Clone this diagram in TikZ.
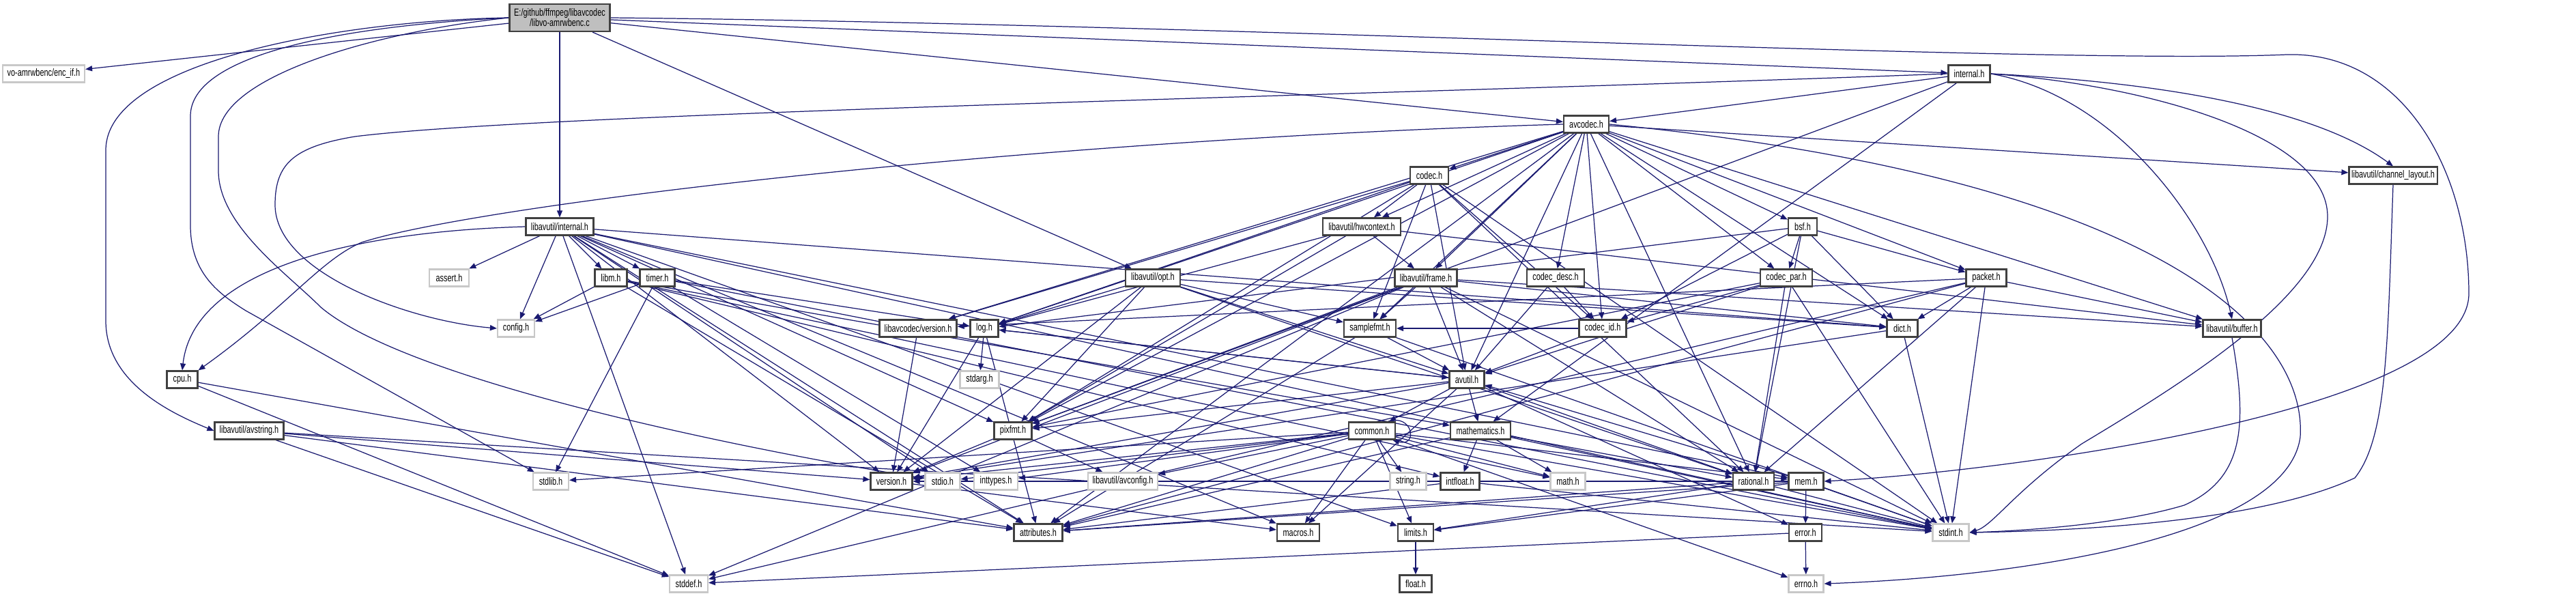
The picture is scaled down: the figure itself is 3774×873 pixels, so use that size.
\documentclass[tikz,border=0pt]{standalone}
\usepackage{fontspec}
\setmainfont{Liberation Sans}[FakeStretch=0.72]
\usetikzlibrary{arrows.meta,backgrounds}

\definecolor{edgeblue}{HTML}{191970}
\definecolor{boxgray}{HTML}{404040}
\definecolor{sysgray}{HTML}{C8C8C8}
\definecolor{mainfill}{HTML}{BFBFBF}

\tikzset{
  hfile/.style={draw=boxgray, fill=white, line width=0.6pt, inner sep=0pt,
    minimum height=0.25cm, font=\fontsize{4.3}{4.3}\selectfont},
  sysfile/.style={hfile, draw=sysgray},
  dep/.style={edgeblue, line width=0.35pt, -{Triangle[length=0.1cm,width=0.08cm]}},
}

\begin{document}
\begin{tikzpicture}[x=0.01cm, y=-0.01cm]
\useasboundingbox (0,0) rectangle (3774,873);

% top rows
\node[hfile, fill=mainfill, minimum width=1.47cm, minimum height=0.40cm, align=center] (main) at (820,26) {E:/github/ffmpeg/libavcodec\\/libvo-amrwbenc.c};
\node[sysfile, minimum width=1.20cm] (encif) at (64,108) {vo-amrwbenc/enc\_if.h};
\node[hfile, minimum width=0.61cm] (internal) at (2885,108) {internal.h};
\node[hfile, minimum width=0.66cm] (avcodec) at (2324,182) {avcodec.h};
\node[hfile, minimum width=0.56cm] (codec) at (2094,257) {codec.h};
\node[hfile, minimum width=1.29cm] (chlayout) at (3506,257) {libavutil/channel\_layout.h};
\node[hfile, minimum width=0.99cm] (luinternal) at (820,332) {libavutil/internal.h};
\node[hfile, minimum width=1.14cm] (hwcontext) at (1995,332) {libavutil/hwcontext.h};
\node[hfile, minimum width=0.42cm] (bsf) at (2641,332) {bsf.h};
\node[sysfile, minimum width=0.58cm] (assert) at (658,407) {assert.h};
\node[hfile, minimum width=0.47cm] (libm) at (895,407) {libm.h};
\node[hfile, minimum width=0.51cm] (timer) at (963,407) {timer.h};
\node[hfile, minimum width=0.80cm] (opt) at (1689,407) {libavutil/opt.h};
\node[hfile, minimum width=0.91cm] (frame) at (2089,407) {libavutil/frame.h};
\node[hfile, minimum width=0.84cm] (codecdesc) at (2279,407) {codec\_desc.h};
\node[hfile, minimum width=0.76cm] (codecpar) at (2617,407) {codec\_par.h};
\node[hfile, minimum width=0.59cm] (packet) at (2910,407) {packet.h};

% middle rows
\node[sysfile, minimum width=0.54cm] (config) at (756,481) {config.h};
\node[hfile, minimum width=1.13cm] (lcversion) at (1345,481) {libavcodec/version.h};
\node[hfile, minimum width=0.41cm] (log) at (1442,481) {log.h};
\node[hfile, minimum width=0.76cm] (samplefmt) at (2007,481) {samplefmt.h};
\node[hfile, minimum width=0.69cm] (codecid) at (2348,481) {codec\_id.h};
\node[hfile, minimum width=0.45cm] (dict) at (2787,481) {dict.h};
\node[hfile, minimum width=0.85cm] (buffer) at (3270,481) {libavutil/buffer.h};
\node[hfile, minimum width=0.45cm] (cpu) at (267,556) {cpu.h};
\node[sysfile, minimum width=0.57cm] (stdarg) at (1435,556) {stdarg.h};
\node[hfile, minimum width=0.51cm] (avutil) at (2149,556) {avutil.h};
\node[hfile, minimum width=1.01cm] (avstring) at (365,631) {libavutil/avstring.h};
\node[hfile, minimum width=0.55cm] (pixfmt) at (1484,631) {pixfmt.h};
\node[hfile, minimum width=0.68cm] (common) at (2010,631) {common.h};
\node[hfile, minimum width=0.88cm] (mathematics) at (2169,631) {mathematics.h};

% bottom rows
\node[sysfile, minimum width=0.52cm] (stdlib) at (807,705) {stdlib.h};
\node[hfile, minimum width=0.61cm] (version) at (1306,705) {version.h};
\node[sysfile, minimum width=0.51cm] (stdio) at (1381,705) {stdio.h};
\node[sysfile, minimum width=0.64cm] (inttypes) at (1459,705) {inttypes.h};
\node[sysfile, minimum width=1.02cm] (avconfig) at (1645,705) {libavutil/avconfig.h};
\node[sysfile, minimum width=0.53cm] (string) at (2063,705) {string.h};
\node[hfile, minimum width=0.57cm] (intfloat) at (2139,705) {intfloat.h};
\node[sysfile, minimum width=0.51cm] (math) at (2297,705) {math.h};
\node[hfile, minimum width=0.60cm] (rational) at (2569,705) {rational.h};
\node[hfile, minimum width=0.51cm] (mem) at (2646,705) {mem.h};
\node[hfile, minimum width=0.71cm] (attributes) at (1521,780) {attributes.h};
\node[hfile, minimum width=0.62cm] (macros) at (1902,780) {macros.h};
\node[hfile, minimum width=0.52cm] (limits) at (2074,780) {limits.h};
\node[hfile, minimum width=0.48cm] (error) at (2645,780) {error.h};
\node[sysfile, minimum width=0.53cm] (stdint) at (2858,780) {stdint.h};
\node[sysfile, minimum width=0.56cm] (stddef) at (1009,855) {stddef.h};
\node[hfile, minimum width=0.47cm] (float) at (2074,855) {float.h};
\node[sysfile, minimum width=0.51cm] (errno) at (2646,855) {errno.h};

\begin{pgfonlayer}{background}
\fill[white] (0,0) rectangle (3774,873);
% straight includes
\foreach \a/\b in {main/encif, main/luinternal, main/opt, main/avcodec, main/internal,
    luinternal/limits, luinternal/stdint, luinternal/stddef, luinternal/assert, luinternal/stdio,
    luinternal/config, luinternal/attributes, luinternal/timer, luinternal/dict, luinternal/macros,
    luinternal/mem, luinternal/pixfmt, luinternal/version, luinternal/libm,
    avstring/stddef, avstring/stdint, avstring/attributes, avstring/version,
    opt/rational, opt/avutil, opt/dict, opt/log, opt/pixfmt, opt/samplefmt, opt/version,
    avcodec/samplefmt, avcodec/attributes, avcodec/avutil, avcodec/buffer, avcodec/chlayout,
    avcodec/dict, avcodec/frame, avcodec/hwcontext, avcodec/log, avcodec/pixfmt, avcodec/rational,
    avcodec/bsf, avcodec/codec, avcodec/codecdesc, avcodec/codecpar, avcodec/codecid,
    avcodec/packet, avcodec/lcversion,
    internal/pixfmt, internal/avcodec, internal/mathematics,
    codec/stdint, codec/avutil, codec/hwcontext, codec/log, codec/pixfmt, codec/rational,
    codec/samplefmt, codec/codecid, codec/lcversion,
    hwcontext/buffer, hwcontext/frame, hwcontext/log, hwcontext/pixfmt,
    frame/stddef, frame/stdint, frame/avutil, frame/buffer, frame/dict, frame/rational,
    frame/samplefmt, frame/pixfmt, frame/version,
    codecdesc/avutil, codecdesc/codecid,
    bsf/dict, bsf/log, bsf/rational, bsf/codecid, bsf/codecpar, bsf/packet,
    codecpar/stdint, codecpar/avutil, codecpar/rational, codecpar/pixfmt, codecpar/codecid,
    packet/stddef, packet/stdint, packet/attributes, packet/buffer, packet/dict,
    packet/rational, packet/lcversion,
    libm/math, libm/config, libm/attributes, libm/intfloat, libm/mathematics,
    timer/config, timer/stdlib, timer/stdint, timer/inttypes, timer/log,
    cpu/stddef, cpu/attributes, lcversion/version,
    log/stdarg, log/avutil, log/attributes, log/version,
    samplefmt/stdint, samplefmt/avutil, samplefmt/attributes,
    codecid/avutil, codecid/samplefmt, dict/stdint, dict/version,
    avutil/common, avutil/error, avutil/rational, avutil/version, avutil/macros,
    avutil/mathematics, avutil/log, avutil/pixfmt,
    pixfmt/avconfig, pixfmt/version,
    common/errno, common/inttypes, common/limits, common/math, common/stdint, common/stdio,
    common/stdlib, common/string, common/attributes, common/macros, common/version,
    common/avconfig, common/mem,
    mathematics/stdint, mathematics/math, mathematics/attributes, mathematics/rational,
    mathematics/intfloat,
    intfloat/stdint, intfloat/attributes,
    rational/stdint, rational/limits, rational/attributes,
    mem/limits, mem/stdint, mem/attributes, mem/error, mem/avutil, mem/version,
    error/errno, error/stddef, limits/float, version/macros}
  \draw[dep] (\a) -- (\b);

% routed includes
\draw[dep] (main.west) .. controls (500,30) and (155,90) .. (155,220) -- (155,470)
  .. controls (155,560) and (250,605) .. (avstring.west);
\draw[dep] (main.west) .. controls (500,38) and (279,80) .. (279,170) -- (279,330)
  .. controls (279,400) and (320,430) .. (360,455) -- (stdlib);
\draw[dep] (main.west) .. controls (560,45) and (320,110) .. (320,200) -- (320,250)
  .. controls (320,330) and (420,400) .. (470,450) .. controls (600,560) and (1100,660) .. (stdio);
\draw[dep] (main.east) .. controls (1800,35) and (3000,95) .. (3350,80)
  .. controls (3520,75) and (3617,250) .. (3617,430) .. controls (3617,600) and (2950,690) .. (mem.east);
\draw[dep] (luinternal.west) .. controls (500,340) and (283,400) .. (cpu.north);
\draw[dep] (avcodec.west) .. controls (1500,205) and (700,300) .. (530,355)
  .. controls (470,380) and (420,450) .. (cpu.north east);
\draw[dep] (avcodec.east) .. controls (3150,260) and (3380,480) .. (3370,640)
  .. controls (3350,790) and (2950,845) .. (errno.east);
\draw[dep] (internal.west) .. controls (2000,140) and (800,165) .. (520,200)
  .. controls (430,215) and (403,240) .. (403,300) .. controls (403,400) and (600,470) .. (config.west);
\draw[dep] (internal.east) .. controls (3150,125) and (3410,200) .. (3410,317)
  .. controls (3410,430) and (3200,560) .. (3050,650) .. controls (2950,720) and (2920,770) .. (stdint.east);
\draw[dep] (internal.east) .. controls (3250,125) and (3420,180) .. (chlayout.north);
\draw[dep] (internal.east) .. controls (3100,140) and (3240,330) .. (buffer.north);
\draw[dep] (chlayout.south) .. controls (3498,500) and (3498,640) .. (3450,700)
  .. controls (3300,770) and (3000,778) .. (stdint.east);
\draw[dep] (buffer.south) .. controls (3292,620) and (3290,700) .. (3200,740)
  .. controls (3100,770) and (2950,778) .. (stdint.east);
\draw[dep] ([xshift=-0.12cm]common.north east) .. controls (2070,605) and (2078,655)
  .. ([xshift=-0.05cm]common.south east);
\end{pgfonlayer}
\end{tikzpicture}
\end{document}
